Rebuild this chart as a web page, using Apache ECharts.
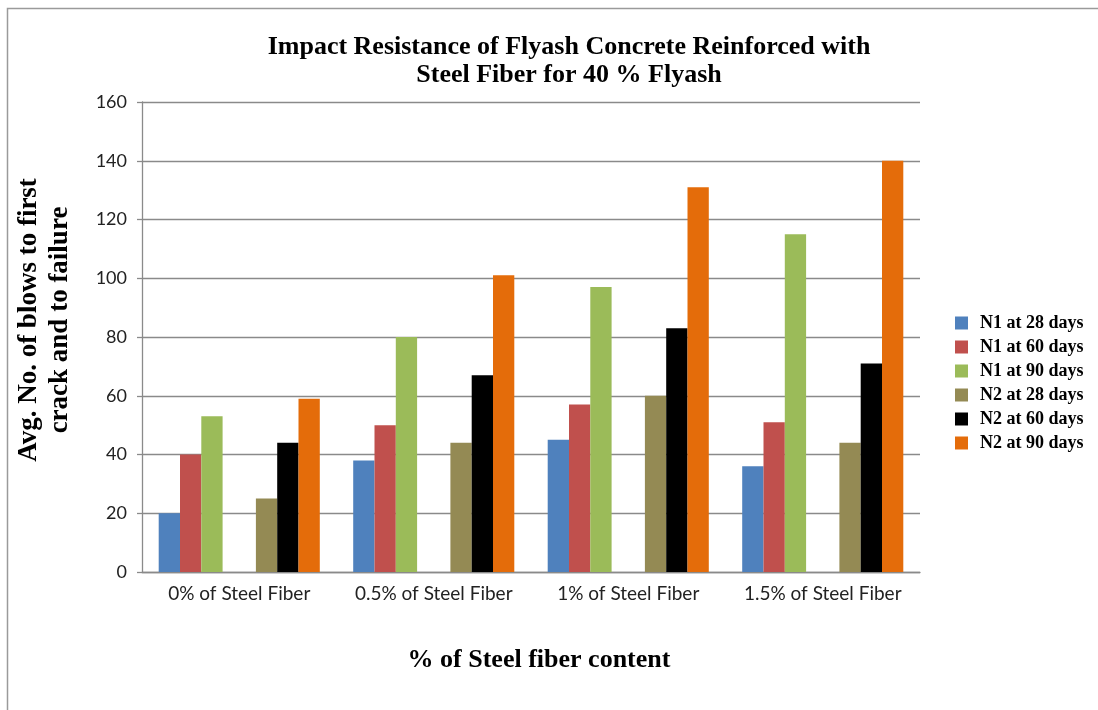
<!DOCTYPE html>
<html>
<head>
<meta charset="utf-8">
<script src="https://cdn.jsdelivr.net/npm/echarts@6/dist/echarts.min.js"></script>
<style>
  html, body { margin: 0; padding: 0; background: #fff; }
  #chart { width: 1098px; height: 710px; }
</style>
</head>
<body>
<div id="chart"></div>
<script>
// Fiber contents on the category axis
const categories = ['0% of Steel Fiber', '0.5% of Steel Fiber', '1% of Steel Fiber', '1.5% of Steel Fiber'];

// Average number of blows (N1 = first crack, N2 = failure)
const n1At28 = [20, 38, 45, 36];
const n1At60 = [40, 50, 57, 51];
const n1At90 = [53, 80, 97, 115];
const n2At28 = [25, 44, 60, 44];
const n2At60 = [44, 67, 83, 71];
const n2At90 = [59, 101, 131, 140];

const seriesNames = ['N1 at 28 days', 'N1 at 60 days', 'N1 at 90 days', 'N2 at 28 days', 'N2 at 60 days', 'N2 at 90 days'];
const seriesColors = ['#4F81BD', '#C0504D', '#9BBB59', '#948A54', '#000000', '#E46C0A'];
const yTicks = [0, 20, 40, 60, 80, 100, 120, 140, 160];

const serif = '"Liberation Serif", "DejaVu Serif", serif';
const sans = 'Lato, "Open Sans", sans-serif';

const chart = echarts.init(document.getElementById('chart'), null, { renderer: 'canvas' });

const barW = 21.3;
function bar(name, data, color) {
  return {
    name, type: 'bar', data, barWidth: barW, barGap: '0%',
    itemStyle: { color }, animation: false
  };
}

const values = [n1At28, n1At60, n1At90, n2At28, n2At60, n2At90];
const series = [];
values.forEach((v, i) => {
  series.push(bar(seriesNames[i], v, seriesColors[i]));
  if (i === 2) {
    // spacer between the N1 and N2 groups
    series.push({ name: 'spacer', type: 'bar', data: categories.map(() => null), barWidth: 33.3, barGap: '0%', animation: false });
  }
});

chart.setOption({
  backgroundColor: '#fff',
  animation: false,
  title: {
    text: 'Impact Resistance of Flyash Concrete Reinforced with\nSteel Fiber for 40 % Flyash',
    left: 564, top: 28, textAlign: 'center',
    textStyle: { fontFamily: serif, fontWeight: 'bold', fontSize: 26, lineHeight: 28, color: '#000' }
  },
  legend: {
    data: seriesNames,
    orient: 'vertical',
    left: 950, top: 309,
    itemWidth: 13, itemHeight: 13, itemGap: 6,
    icon: 'rect',
    textStyle: { fontFamily: serif, fontWeight: 'bold', fontSize: 18, color: '#000', padding: [0, 0, 0, 7] }
  },
  grid: { left: 142, right: 178, top: 102, bottom: 138, containLabel: false },
  xAxis: {
    type: 'category',
    data: categories,
    axisLine: { lineStyle: { color: '#8a8a8a', width: 1.3 } },
    axisTick: { show: false },
    axisLabel: { fontFamily: sans, fontSize: 19, color: '#222', margin: 12, interval: 0 }
  },
  yAxis: {
    type: 'value',
    min: yTicks[0], max: yTicks[yTicks.length - 1], interval: 20,
    axisLine: { show: true, lineStyle: { color: '#8a8a8a', width: 1.3 } },
    axisTick: { show: true, length: 5, lineStyle: { color: '#8a8a8a', width: 1.3 } },
    axisLabel: { fontFamily: sans, fontSize: 18, color: '#222', margin: 15 },
    splitLine: { lineStyle: { color: '#8a8a8a', width: 1.3 } }
  },
  series,
  graphic: [
    {
      type: 'rect', silent: true, z: -1,
      shape: { x: 7.5, y: 8.5, width: 1200, height: 800 },
      style: { fill: 'none', stroke: '#9a9a9a', lineWidth: 1.5 }
    },
    {
      type: 'text', x: 45, y: 320, rotation: Math.PI / 2,
      style: {
        text: 'Avg. No. of blows to first\ncrack and to failure',
        font: 'bold 27px ' + serif, fill: '#000',
        align: 'center', verticalAlign: 'middle', lineHeight: 31
      }
    },
    {
      type: 'text', x: 539, y: 660,
      style: {
        text: '% of Steel fiber content',
        font: 'bold 26px ' + serif, fill: '#000',
        align: 'center', verticalAlign: 'middle'
      }
    }
  ]
});
</script>
</body>
</html>
